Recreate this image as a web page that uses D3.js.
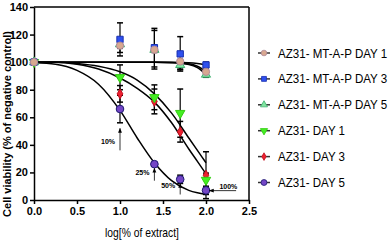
<!DOCTYPE html>
<html>
<head>
<meta charset="utf-8">
<script src="https://cdn.jsdelivr.net/npm/d3@7"></script>
<style>
  body { margin: 0; background: #fff; }
  svg { display: block; font-family: "Liberation Sans", Arial, sans-serif; }
  .axis path, .axis line { stroke: #000; stroke-width: 1.5px; }
  .axis text { font-size: 11px; font-weight: bold; fill: #000; }
</style>
</head>
<body>
<div id="chart"></div>
<script>
// dose points, log[% of extract]
let doses = [0, 1.0, 1.4, 1.7, 2.0];

let seriesNames = ["AZ31- MT-A-P DAY 1", "AZ31- MT-A-P DAY 3", "AZ31- MT-A-P DAY 5",
    "AZ31- DAY 1", "AZ31- DAY 3", "AZ31- DAY 5"];

// mean viability per series
let mtDay1 = [100, 112, 109, 100.5, 93];
let mtDay3 = [100, 116.5, 110.5, 106, 98];
let mtDay5 = [100, 113, 109, 98, 91];
let day1 = [100, 89, 74.5, 63, 14.5];
let day3 = [100, 77, 71.5, 49.5, 18];
let day5 = [100, 66, 26, 15, 7];

// error bar half-widths
let mtDay1Err = [0, 5, 14, 6, 3];
let mtDay3Err = [0, 12, 14, 12.5, 2];
let mtDay5Err = [0, 3, 2, 3, 2];
let day1Err = [0, 9, 9, 17.5, 5];
let day3Err = [0, 6, 9, 7.5, 17];
let day5Err = [0, 10, 1, 3, 3];

// fitted curves
let curveX = [0, 0.25, 0.5, 0.75, 1.0, 1.2, 1.4, 1.6, 1.8, 1.9, 2.0];
let mtDay1Fit = [100, 100, 100, 100, 100, 100, 100, 99.8, 98.8, 97, 93];
let mtDay3Fit = [100, 100, 100, 100, 100, 100, 100, 100, 99.6, 99, 98];
let mtDay5Fit = [100, 100, 100, 100, 100, 100, 100, 99.6, 98.3, 96, 91];
let day1Fit = [100, 100, 99, 97, 93, 87, 77, 63, 45, 36, 27];
let day3Fit = [100, 100, 98.5, 95, 88.5, 81, 71, 56, 37, 28, 19];
let day5Fit = [99.5, 98.5, 94, 84, 65, 45, 27, 14, 7, 5.2, 4];

let xTicks = [0, 0.5, 1.0, 1.5, 2.0, 2.5];
let yTicks = [0, 20, 40, 60, 80, 100, 120, 140];

let arrowNotes = [
    {label: "10%", x: 1.0, y1: 36, y2: 52},
    {label: "25%", x: 1.4, y1: 14, y2: 23},
    {label: "50%", x: 1.7, y1: 4, y2: 12},
];

let series = [
    {name: seriesNames[5], mean: day5, err: day5Err, fit: day5Fit, symbol: d3.symbolCircle, size: 46, fill: "#7446c6", stroke: "#1c1870", rot: 0},
    {name: seriesNames[4], mean: day3, err: day3Err, fit: day3Fit, symbol: d3.symbolDiamond, size: 28, fill: "#ee2030", stroke: "#c01020", rot: 0},
    {name: seriesNames[3], mean: day1, err: day1Err, fit: day1Fit, symbol: d3.symbolTriangle, size: 38, fill: "#44ee22", stroke: "#33cc11", rot: 180},
    {name: seriesNames[2], mean: mtDay5, err: mtDay5Err, fit: mtDay5Fit, symbol: d3.symbolTriangle, size: 36, fill: "#80e4a0", stroke: "#40b070", rot: 0},
    {name: seriesNames[1], mean: mtDay3, err: mtDay3Err, fit: mtDay3Fit, symbol: d3.symbolSquare, size: 40, fill: "#2f50ee", stroke: "#1a30b0", rot: 0},
    {name: seriesNames[0], mean: mtDay1, err: mtDay1Err, fit: mtDay1Fit, symbol: d3.symbolCircle, size: 42, fill: "#d8a890", stroke: "#b08a9a", rot: 0},
];

let width = 392, height = 241;
let margin = {top: 7, left: 34, right: 143, bottom: 41};

let svg = d3.select("#chart").append("svg")
    .attr("width", width)
    .attr("height", height);

svg.append("defs").append("marker")
    .attr("id", "arrow")
    .attr("viewBox", "0 0 10 10")
    .attr("refX", 9).attr("refY", 5)
    .attr("markerWidth", 6).attr("markerHeight", 6)
    .attr("orient", "auto-start-reverse")
    .append("path")
    .attr("d", "M0,1L10,5L0,9z")
    .attr("fill", "#000");

let x = d3.scaleLinear().domain([0, 2.5]).range([margin.left, width - margin.right]);
let y = d3.scaleLinear().domain([0, 140]).range([height - margin.bottom, margin.top]);

// frame top + right
svg.append("line")
    .attr("x1", x(0)).attr("x2", x(2.5))
    .attr("y1", y(140)).attr("y2", y(140))
    .attr("stroke", "#000").attr("stroke-width", 1.5);
svg.append("line")
    .attr("x1", x(2.5)).attr("x2", x(2.5))
    .attr("y1", y(140)).attr("y2", y(0))
    .attr("stroke", "#000").attr("stroke-width", 1.5);

svg.append("g")
    .attr("class", "axis")
    .attr("transform", "translate(0," + y(0) + ")")
    .call(d3.axisBottom(x).tickValues(xTicks).tickFormat(d3.format(".1f")).tickSize(4).tickPadding(3).tickSizeOuter(0));

svg.append("g")
    .attr("class", "axis")
    .attr("transform", "translate(" + x(0) + ",0)")
    .call(d3.axisLeft(y).tickValues(yTicks).tickSize(4).tickPadding(2).tickSizeOuter(0));

// axis titles
svg.append("text")
    .attr("transform", "translate(11,124) rotate(-90)")
    .attr("text-anchor", "middle")
    .style("font-size", "11px")
    .style("font-weight", "bold")
    .text("Cell viability (% of negative control)");

svg.append("text")
    .attr("transform", "translate(142,237) scale(0.86,1)")
    .attr("text-anchor", "middle")
    .style("font-size", "12px")
    .text("log[% of extract]");

// fitted curves
let line = d3.line()
    .x(function (d, i) { return x(curveX[i]); })
    .y(function (d) { return y(d); })
    .curve(d3.curveMonotoneX);

series.forEach(function (s) {
    svg.append("path")
        .datum(s.fit)
        .attr("d", line)
        .attr("fill", "none")
        .attr("stroke", "#000")
        .attr("stroke-width", 1.5);
});

// error bars
series.forEach(function (s) {
    let g = svg.append("g");
    s.mean.forEach(function (m, i) {
        let e = s.err[i];
        if (e <= 0) return;
        let cx = x(doses[i]);
        g.append("line")
            .attr("x1", cx).attr("x2", cx)
            .attr("y1", y(m - e)).attr("y2", y(m + e))
            .attr("stroke", "#000").attr("stroke-width", 1.2);
        [m - e, m + e].forEach(function (v) {
            g.append("line")
                .attr("x1", cx - 3).attr("x2", cx + 3)
                .attr("y1", y(v)).attr("y2", y(v))
                .attr("stroke", "#000").attr("stroke-width", 1.5);
        });
    });
});

// markers
series.forEach(function (s) {
    let sym = d3.symbol().type(s.symbol).size(s.size);
    svg.append("g").selectAll("path")
        .data(s.mean)
        .enter()
        .append("path")
        .attr("d", sym)
        .attr("transform", function (d, i) {
            return "translate(" + x(doses[i]) + "," + y(d) + ") rotate(" + s.rot + ")";
        })
        .attr("fill", s.fill)
        .attr("stroke", s.stroke)
        .attr("stroke-width", 1);
});

// arrows with percent labels
arrowNotes.forEach(function (a) {
    svg.append("line")
        .attr("x1", x(a.x)).attr("x2", x(a.x))
        .attr("y1", y(a.y1)).attr("y2", y(a.y2))
        .attr("stroke", "#000").attr("stroke-width", 0.8)
        .attr("marker-end", "url(#arrow)");
    svg.append("text")
        .attr("x", x(a.x) - 12)
        .attr("y", y(a.y1) - 6)
        .attr("text-anchor", "middle")
        .style("font-size", "7px")
        .style("font-weight", "bold")
        .text(a.label);
});

svg.append("line")
    .attr("x1", x(2.35)).attr("x2", x(2.04))
    .attr("y1", y(6.8)).attr("y2", y(6.8))
    .attr("stroke", "#000").attr("stroke-width", 0.8)
    .attr("marker-end", "url(#arrow)");
svg.append("text")
    .attr("x", x(2.26))
    .attr("y", y(8.3))
    .attr("text-anchor", "middle")
    .style("font-size", "7px")
    .style("font-weight", "bold")
    .text("100%");

// legend
let legend = svg.selectAll(".legend")
    .data(series.slice().reverse())
    .enter()
    .append("g")
    .attr("class", "legend")
    .attr("transform", function (d, i) {
        return "translate(264," + (53 + i * 25.9) + ")";
    });

legend.append("line")
    .attr("x1", -6).attr("x2", 6)
    .attr("stroke", "#333").attr("stroke-width", 1.5);

legend.append("path")
    .attr("d", function (d) { return d3.symbol().type(d.symbol).size(d.size * 0.6)(); })
    .attr("transform", function (d) { return "rotate(" + d.rot + ")"; })
    .attr("fill", function (d) { return d.fill; })
    .attr("stroke", function (d) { return d.stroke; })
    .attr("stroke-width", 0.8);

legend.append("text")
    .attr("transform", "translate(14,4.5) scale(0.89,1)")
    .style("font-size", "13px")
    .text(function (d) { return d.name; });
</script>
</body>
</html>
